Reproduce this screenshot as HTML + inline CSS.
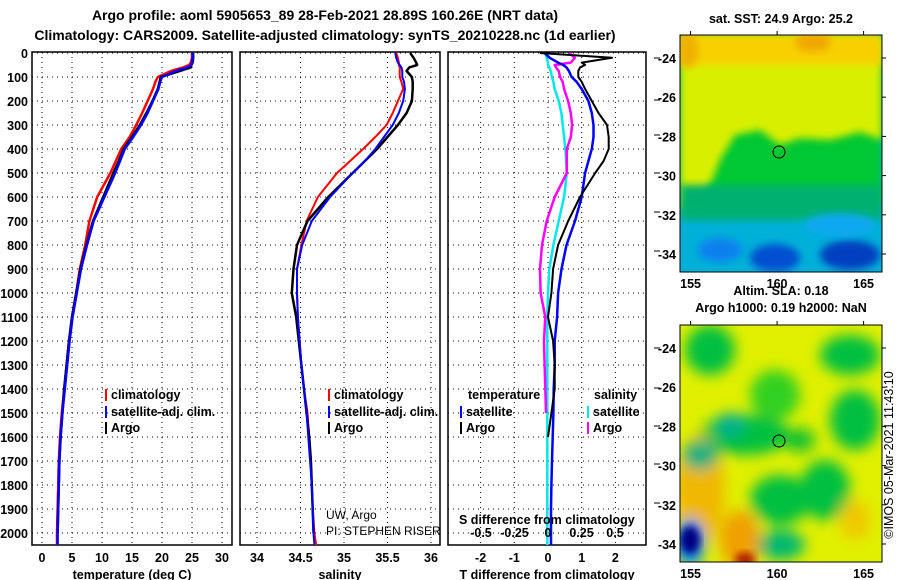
<!DOCTYPE html>
<html><head><meta charset="utf-8"><style>
html,body{margin:0;padding:0;background:#fff;}
svg{display:block;font-family:"Liberation Sans",sans-serif;}
.b{font-weight:bold;font-size:12.5px;}
.t{font-weight:bold;font-size:14px;}
</style></head><body>
<svg id="chart" width="900" height="580" viewBox="0 0 900 580">
<defs>
<filter id="bl" x="-20%" y="-20%" width="140%" height="140%"><feGaussianBlur stdDeviation="7"/></filter>
<filter id="bl2" x="-20%" y="-20%" width="140%" height="140%"><feGaussianBlur stdDeviation="4"/></filter>
<clipPath id="c1"><rect x="680" y="35" width="202" height="237"/></clipPath>
<clipPath id="c2"><rect x="680" y="325" width="202" height="237"/></clipPath>
</defs>
<text class="t" x="325" y="20" text-anchor="middle">Argo profile: aoml 5905653_89 28-Feb-2021 28.89S 160.26E (NRT data)</text>
<text class="t" x="325" y="40" text-anchor="middle">Climatology: CARS2009. Satellite-adjusted climatology: synTS_20210228.nc (1d earlier)</text>
<g id="plots"></g>

<!-- top map -->
<g clip-path="url(#c1)">
<rect x="680" y="35" width="202" height="237" fill="#00b0d8"/>
<rect x="680" y="35" width="202" height="170" fill="#00c830" filter="url(#bl2)"/>
<path d="M680 35H882V140L860 132L830 140L800 138L780 145L760 130L735 135L720 160L712 180L700 200L680 210Z" fill="#d8f000" filter="url(#bl2)"/>
<rect x="680" y="35" width="202" height="30" fill="#f8d000" filter="url(#bl2)"/>
<ellipse cx="688" cy="50" rx="10" ry="18" fill="#f0b000" filter="url(#bl2)"/>
<ellipse cx="813" cy="42" rx="18" ry="10" fill="#f0a800" filter="url(#bl2)"/>
<rect x="680" y="185" width="202" height="35" fill="#00b070" filter="url(#bl2)"/>
<ellipse cx="720" cy="250" rx="22" ry="12" fill="#1080f0" filter="url(#bl2)"/>
<ellipse cx="775" cy="258" rx="25" ry="14" fill="#0050d0" filter="url(#bl2)"/>
<ellipse cx="850" cy="255" rx="30" ry="15" fill="#0040c0" filter="url(#bl2)"/>
<ellipse cx="840" cy="225" rx="35" ry="12" fill="#10a8f0" filter="url(#bl2)"/>
</g>
<rect x="680" y="35" width="202" height="237" fill="none" stroke="#000"/>
<circle cx="779" cy="152" r="6" fill="none" stroke="#000"/>
<text class="b" x="781" y="23" text-anchor="middle">sat. SST: 24.9 Argo: 25.2</text>
<text class="b" x="781" y="295" text-anchor="middle">Altim. SLA: 0.18</text>
<text class="b" x="781" y="312" text-anchor="middle">Argo h1000: 0.19 h2000: NaN</text>

<!-- bottom map -->
<g clip-path="url(#c2)">
<rect x="680" y="325" width="202" height="237" fill="#e0f000"/>
<g filter="url(#bl)">
<ellipse cx="710" cy="350" rx="25" ry="25" fill="#00c040"/>
<ellipse cx="850" cy="355" rx="30" ry="20" fill="#00c040"/>
<ellipse cx="775" cy="395" rx="25" ry="25" fill="#30d020"/>
<ellipse cx="745" cy="435" rx="45" ry="20" fill="#00c040"/>
<ellipse cx="730" cy="425" rx="15" ry="12" fill="#00b090"/>
<ellipse cx="855" cy="420" rx="25" ry="30" fill="#00c040"/>
<ellipse cx="800" cy="440" rx="15" ry="12" fill="#10c030"/>
<ellipse cx="780" cy="500" rx="30" ry="25" fill="#00c040"/>
<ellipse cx="825" cy="490" rx="25" ry="30" fill="#00c040"/>
<ellipse cx="780" cy="545" rx="25" ry="15" fill="#00b870"/>
<ellipse cx="700" cy="490" rx="25" ry="55" fill="#f0b800"/>
<ellipse cx="740" cy="540" rx="20" ry="30" fill="#f0a000"/>
<ellipse cx="700" cy="455" rx="18" ry="15" fill="#00b080"/>
<ellipse cx="690" cy="543" rx="15" ry="25" fill="#1090f0"/>
<ellipse cx="855" cy="520" rx="15" ry="20" fill="#f0c800"/>
</g>
<ellipse cx="690" cy="540" rx="10" ry="14" fill="#000080" filter="url(#bl2)"/>
<ellipse cx="745" cy="560" rx="10" ry="8" fill="#b02000" filter="url(#bl2)"/>
</g>
<rect x="680" y="325" width="202" height="237" fill="none" stroke="#000"/>
<circle cx="779" cy="441" r="6" fill="none" stroke="#000"/>
<text x="893" y="455" font-size="12.5" text-anchor="middle" transform="rotate(-90 893 455)">©IMOS 05-Mar-2021 11:43:10</text>
<g id="maps"></g>
</svg>
<script>
const depths=[0,20,40,50,60,75,100,120,150,200,250,300,350,400,450,500,600,700,800,900,1000,1100,1200,1300,1400,1500,1600,1700,1800,1900,2000,2050];
const tClim=[25,25,24.8,24.5,23.5,21.5,19.3,18.9,18.5,17.6,16.7,15.7,14.6,13.2,12.3,11.4,9.2,7.9,7.2,6.3,5.7,5.0,4.5,4.1,3.7,3.3,3.0,2.8,2.7,2.6,2.5,2.5];
const tSat=[25.1,25.1,25.0,24.9,24.2,22.3,20.0,19.7,19.4,18.5,17.6,16.5,15.2,13.8,13.0,12.2,10.4,8.6,7.5,6.5,5.8,5.1,4.6,4.2,3.8,3.4,3.1,2.9,2.8,2.7,2.6,2.6];
const tArgo=[25.2,25.2,25.1,24.9,24.8,23.0,19.8,19.6,19.3,18.4,17.4,16.3,15.0,13.6,12.8,11.9,10.2,8.5,7.4,6.4,5.7,5.0,4.5,4.1,3.7,3.4,3.1,2.9,2.8,2.7,2.6,null];
const sClim=[35.6,35.62,35.63,35.63,35.64,35.64,35.64,35.66,35.68,35.62,35.56,35.49,35.36,35.22,35.07,34.92,34.70,34.57,34.51,34.46,34.46,34.47,34.49,34.51,34.54,34.58,34.60,34.62,34.63,34.64,34.66,34.68];
const sSat=[35.59,35.6,35.62,35.64,35.66,35.67,35.67,35.69,35.70,35.68,35.63,35.56,35.46,35.36,35.24,35.10,34.84,34.63,34.52,34.46,34.46,34.47,34.49,34.51,34.54,34.57,34.59,34.61,34.63,34.64,34.65,34.66];
const sArgo=[35.76,35.8,35.83,35.84,35.75,35.72,35.78,35.79,35.79,35.78,35.72,35.62,35.50,35.38,35.24,35.10,34.82,34.58,34.46,34.42,34.40,34.45,34.48,34.51,34.54,34.57,34.60,34.62,34.63,34.64,34.65,null];
const dTsat=[-0.1,0.05,0.3,0.45,0.55,0.62,0.7,0.85,1.0,1.2,1.3,1.35,1.35,1.3,1.2,1.1,1.0,0.8,0.55,0.4,0.3,0.27,0.2,0.2,0.17,0.16,0.14,0.12,0.1,0.09,0.09,0.09];
const dTargo=[-0.24,1.9,1.0,1.1,0.95,0.9,0.9,1.0,1.1,1.3,1.5,1.75,1.8,1.8,1.65,1.4,0.95,0.6,0.3,0.15,0.1,0.0,0.15,0.2,0.2,0.1,0.0,null,null,null,null,null];
const dSsat=[-0.02,-0.01,0,0,0.01,0.02,0.03,0.04,0.05,0.08,0.1,0.11,0.12,0.13,0.135,0.14,0.12,0.08,0.04,0.01,0,-0.005,-0.005,-0.005,-0.005,-0.005,-0.005,-0.005,-0.005,-0.005,-0.005,-0.005];
const dSargo=[0.16,0.2,0.17,0.05,0.06,0.08,0.09,0.11,0.12,0.15,0.17,0.18,0.17,0.14,0.14,0.14,0.05,-0.01,-0.045,-0.06,-0.055,-0.02,-0.03,-0.025,-0.02,-0.015,null,null,null,null,null,null];
const depthTicks=[0,100,200,300,400,500,600,700,800,900,1000,1100,1200,1300,1400,1500,1600,1700,1800,1900,2000];
const tTicks=[0,5,10,15,20,25,30];
const sTicks=[34,34.5,35,35.5,36];
const dTTicks=[-2,-1,0,1,2];
const dSTicks=[-0.5,-0.25,0,0.25,0.5];
const latTicks=[-24,-26,-28,-30,-32,-34];
const lonTicks=[155,160,165];

const NS='http://www.w3.org/2000/svg';
const root=document.getElementById('plots');
function mk(tag,attrs,parent,text){const e=document.createElementNS(NS,tag);for(const k in attrs)e.setAttribute(k,attrs[k]);if(text!==undefined)e.textContent=text;(parent||root).appendChild(e);return e;}
const Y=d=>53+d*0.24;
const panels=[
 {x0:32,x1:232,X:v=>42+v*6,ticks:tTicks,label:'temperature (deg C)',name:'temperature'},
 {x0:240,x1:440,X:v=>257+(v-34)*87,ticks:sTicks,label:'salinity',name:'salinity'},
 {x0:448,x1:646,X:v=>548+v*33.7,ticks:dTTicks,label:'T difference from climatology',name:'difference'}
];
panels.forEach(p=>{
 const g=mk('g',{});
 
 
 p.g=g;
 depthTicks.forEach(d=>{const l=mk('line',{x1:p.x0,x2:p.x1,y1:Y(d),y2:Y(d),stroke:'#000','stroke-dasharray':'1 4'},g);
  });
 p.ticks.forEach(v=>{const l=mk('line',{x1:p.X(v),x2:p.X(v),y1:52,y2:545,stroke:'#000','stroke-dasharray':'1 4'},g);
  
  const t=mk('text',{x:p.X(v),y:562,'text-anchor':'middle',class:'b'},g,String(v));
  });
 const f=mk('rect',{x:p.x0,y:52,width:p.x1-p.x0,height:493,fill:'none',stroke:'#000','stroke-width':1.5},g);
 
 const xl=mk('text',{x:(p.x0+p.x1)/2,y:579,'text-anchor':'middle',class:'b'},g,p.label);
 
});
depthTicks.forEach(d=>{const t=mk('text',{x:28,y:Y(d)+5,'text-anchor':'end',class:'b'},root,String(d));
 });
function line(p,vals,X,color,name,w){
 let d='';let pen=false;
 vals.forEach((v,i)=>{if(v===null){pen=false;return;}d+=(pen?'L':'M')+X(v).toFixed(1)+' '+Y(depths[i]).toFixed(1);pen=true;});
 const e=mk('path',{d:d,fill:'none',stroke:color,'stroke-width':w||2.5,'stroke-linejoin':'round'},p.g);
 
}
const P=panels;
line(P[0],tClim,P[0].X,'#ff0000','temp-climatology-line');
line(P[0],tArgo,P[0].X,'#000','temp-argo-line');
line(P[0],tSat,P[0].X,'#0000ff','temp-satellite-line');
line(P[1],sClim,P[1].X,'#ff0000','sal-climatology-line',2);
line(P[1],sArgo,P[1].X,'#000','sal-argo-line');
line(P[1],sSat,P[1].X,'#0000ff','sal-satellite-line',2);
const XS=v=>548+v*134;
line(P[2],dSsat,XS,'#00e8e8','s-diff-satellite-line');
line(P[2],dSargo,XS,'#ff00ff','s-diff-argo-line');
line(P[2],dTsat,P[2].X,'#0000ff','t-diff-satellite-line');
line(P[2],dTargo,P[2].X,'#000','t-diff-argo-line',2);
dSTicks.forEach(v=>{const t=mk('text',{x:XS(v),y:537,'text-anchor':'middle',class:'b'},P[2].g,String(v));
 });
const st=mk('text',{x:459,y:524,class:'b'},P[2].g,'S difference from climatology');

[58,100,135,173,212,251,348,388,426,464,503].forEach(y=>{const l=mk('line',{x1:654,x2:660,y1:y,y2:y,stroke:'#000'});
 });
function leg(x,y,color,label,name){
 const g=mk('g',{});
 mk('rect',{x:x,y:y-10,width:2,height:12,fill:color},g);
 mk('text',{x:x+6,y:y,class:'b'},g,label);
}
leg(105,399,'#ff0000','climatology','legend-temp-climatology');
leg(105,416,'#0000ff','satellite-adj. clim.','legend-temp-satellite');
leg(105,432,'#000','Argo','legend-temp-argo');
leg(328,399,'#ff0000','climatology','legend-sal-climatology');
leg(328,416,'#0000ff','satellite-adj. clim.','legend-sal-satellite');
leg(328,432,'#000','Argo','legend-sal-argo');
const lt=mk('text',{x:468,y:399,class:'b'},root,'temperature');
const ls=mk('text',{x:594,y:399,class:'b'},root,'salinity');
leg(460,416,'#0000ff','satellite','legend-tdiff-satellite');
leg(460,432,'#000','Argo','legend-tdiff-argo');
leg(587,416,'#00e8e8','satellite','legend-sdiff-satellite');
leg(587,432,'#ff00ff','Argo','legend-sdiff-argo');
const u1=mk('text',{x:326,y:519,'font-size':12},root,'UW, Argo');
const u2=mk('text',{x:326,y:535,'font-size':12},root,'PI: STEPHEN RISER');
const mroot=document.getElementById('maps');
[[35,58],[325,348]].forEach(([top,y24])=>{
 latTicks.forEach(v=>{const y=y24+(-24-v)*19.6;
  const l=mk('line',{x1:882,x2:886,y1:y,y2:y,stroke:'#000'},mroot);
  const t=mk('text',{x:676,y:y+5,'text-anchor':'end',class:'b'},mroot,String(v));});
 lonTicks.forEach(v=>{const x=690.6+(v-155)*17.3;
  const l=mk('line',{x1:x,x2:x,y1:top-4,y2:top,stroke:'#000'},mroot);
  const t=mk('text',{x:x,y:top+253,'text-anchor':'middle',class:'b'},mroot,String(v));});
});
</script>
</body></html>
